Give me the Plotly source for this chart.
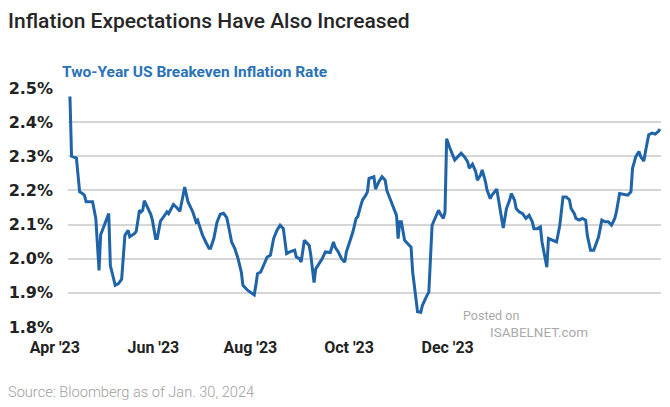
import pandas as pd
import plotly.graph_objects as go

# Days since start of the series and the two-year breakeven rate (%)
days = [0, 1, 4, 6, 8, 9, 10, 14, 16, 18, 19, 22, 24, 25, 27, 28, 30, 32, 34, 36,
        37, 40, 41, 43, 44, 45, 46, 48, 50, 51, 53, 54, 56, 58, 60, 61, 63, 64, 66, 68,
        70, 71, 73, 76, 78, 79, 80, 82, 84, 86, 87, 89, 91, 93, 95, 97, 98, 100, 102, 104,
        106, 107, 110, 112, 114, 115, 116, 118, 120, 122, 124, 126, 128, 130, 132, 134, 136, 139, 140, 142,
        143, 145, 148, 149, 151, 152, 154, 156, 158, 161, 163, 164, 166, 168, 170, 171, 173, 175, 177, 178,
        180, 181, 183, 184, 185, 188, 189, 191, 193, 195, 196, 198, 200, 202, 203, 204, 205, 207, 209, 211,
        212, 214, 215, 217, 218, 221, 222, 224, 226, 228, 229, 231, 232, 233, 235, 237, 238, 240, 242, 244,
        246, 247, 249, 251, 252, 254, 255, 257, 258, 260, 261, 264, 265, 266, 268, 269, 270, 272, 273, 275,
        276, 278, 280, 282, 284, 286, 287, 289, 291, 292, 294, 295, 296, 297, 299, 301, 303, 305, 307, 309,
        310, 312, 313, 315, 317, 319, 320, 322, 324, 325, 327, 329, 331, 333, 335, 337, 338, 340, 343, 345,
        347, 348, 350, 352, 353, 355, 356, 358, 360, 362, 364, 365]

rate = [2.475, 2.300, 2.295, 2.196, 2.190, 2.185, 2.167, 2.167, 2.118, 1.966, 2.070, 2.108, 2.132, 1.980, 1.940, 1.922, 1.927, 1.940, 2.069, 2.083,
        2.064, 2.074, 2.080, 2.142, 2.137, 2.142, 2.170, 2.150, 2.130, 2.113, 2.059, 2.059, 2.110, 2.123, 2.137, 2.132, 2.152, 2.159, 2.150, 2.139,
        2.186, 2.210, 2.167, 2.137, 2.108, 2.113, 2.098, 2.069, 2.049, 2.031, 2.031, 2.059, 2.108, 2.130, 2.133, 2.120, 2.098, 2.049, 2.030, 2.000,
        1.961, 1.922, 1.907, 1.900, 1.894, 1.922, 1.956, 1.961, 1.985, 2.005, 2.010, 2.059, 2.083, 2.098, 2.088, 2.015, 2.020, 2.025, 2.005, 2.000,
        1.990, 2.054, 2.039, 2.010, 1.930, 1.970, 1.985, 2.000, 2.020, 2.018, 2.049, 2.034, 2.020, 2.000, 1.990, 2.020, 2.049, 2.078, 2.118, 2.123,
        2.157, 2.172, 2.186, 2.196, 2.235, 2.240, 2.204, 2.225, 2.240, 2.230, 2.200, 2.176, 2.147, 2.127, 2.059, 2.108, 2.108, 2.054, 2.044, 2.034,
        1.961, 1.882, 1.845, 1.843, 1.863, 1.894, 1.902, 2.098, 2.123, 2.142, 2.132, 2.118, 2.137, 2.351, 2.324, 2.300, 2.289, 2.299, 2.309, 2.299,
        2.284, 2.265, 2.277, 2.255, 2.230, 2.245, 2.260, 2.226, 2.201, 2.176, 2.186, 2.204, 2.176, 2.142, 2.090, 2.118, 2.147, 2.172, 2.191, 2.172,
        2.147, 2.137, 2.132, 2.118, 2.127, 2.108, 2.088, 2.088, 2.093, 2.049, 2.000, 1.975, 2.059, 2.057, 2.054, 2.049, 2.098, 2.181, 2.181, 2.172,
        2.147, 2.132, 2.118, 2.113, 2.118, 2.113, 2.069, 2.025, 2.025, 2.039, 2.064, 2.113, 2.108, 2.108, 2.098, 2.118, 2.137, 2.191, 2.188, 2.186,
        2.196, 2.265, 2.299, 2.314, 2.299, 2.286, 2.314, 2.363, 2.368, 2.365, 2.373, 2.380]

tick_days = [3, 64, 124, 185, 246]
tick_text = ["Apr '23", "Jun '23", "Aug '23", "Oct '23", "Dec '23"]
y_ticks = [1.8, 1.9, 2.0, 2.1, 2.2, 2.3, 2.4, 2.5]
y_text = ["1.8%", "1.9%", "2.0%", "2.1%", "2.2%", "2.3%", "2.4%", "2.5%"]

fig = go.Figure()
fig.add_trace(go.Scatter(x=days, y=rate, mode="lines",
                         line=dict(color="#1f63a9", width=3), showlegend=False,
                         cliponaxis=False))

FONT = "Roboto"
fig.update_layout(
    width=670, height=407,
    margin=dict(l=68, r=9, t=88, b=80),
    paper_bgcolor="white", plot_bgcolor="white",
    title=dict(text="Inflation Expectations Have Also Increased",
               font=dict(family=FONT, size=21, color="#262626", weight=500),
               xref="container", x=0.012, xanchor="left",
               yref="container", y=1 - 21 / 407, yanchor="middle"),
    xaxis=dict(range=[-1.2, 365.6], showgrid=False, zeroline=False, showline=False,
               automargin=False,
               tickmode="array", tickvals=tick_days, ticktext=tick_text,
               ticklabelshift=-20, ticklabelstandoff=9,
               tickfont=dict(family=FONT, size=16, color="#222222", weight=700)),
    yaxis=dict(range=[1.8, 2.5], tickmode="array", tickvals=y_ticks, ticktext=y_text,
               automargin=False,
               showgrid=True, gridcolor="#d6d6d6", gridwidth=2, zeroline=False, showline=False,
               ticklabelstandoff=14,
               tickfont=dict(family="DejaVu Sans", size=16, color="#222222", weight=700)),
    annotations=[
        dict(text="Two-Year US Breakeven Inflation Rate", xref="paper", yref="paper",
             x=-0.0135, y=1.065, xanchor="left", yanchor="middle", showarrow=False,
             font=dict(family=FONT, size=15.5, color="#2a72b8", weight=700)),
        dict(text="Source: Bloomberg as of Jan. 30, 2024", xref="paper", yref="paper",
             x=-0.1046, y=-0.272, xanchor="left", yanchor="middle", showarrow=False,
             font=dict(family=FONT, size=14.6, color="#a0a0a0", weight=300)),
        dict(text="Posted on", xref="paper", yref="paper",
             x=0.663, y=0.05, xanchor="left", yanchor="middle", showarrow=False,
             font=dict(family=FONT, size=12.5, color="#aaaaaa")),
        dict(text="ISABELNET.com", xref="paper", yref="paper",
             x=0.708, y=-0.021, xanchor="left", yanchor="middle", showarrow=False,
             font=dict(family=FONT, size=13.5, color="#aaaaaa")),
    ],
)

fig.write_html("out.html", config={"displayModeBar": False},
               post_script="document.body.style.margin='0';")
